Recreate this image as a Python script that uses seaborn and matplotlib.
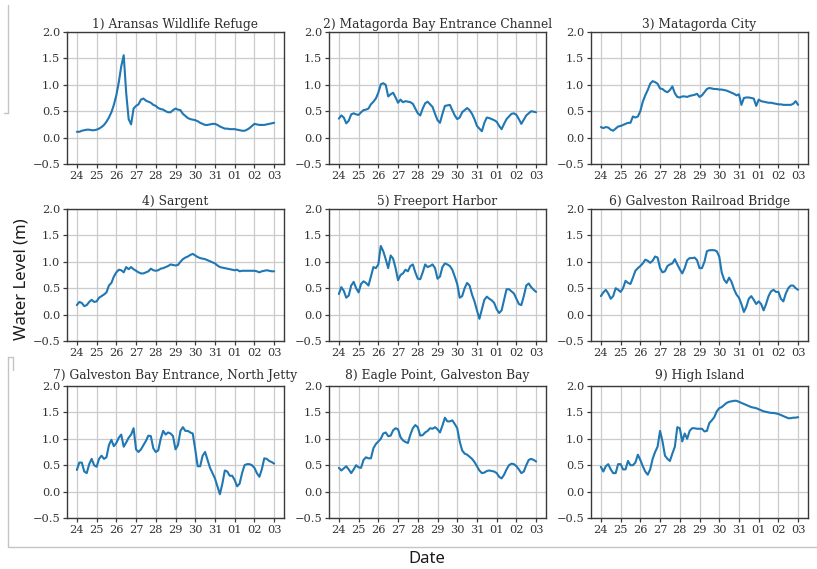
import matplotlib
matplotlib.use("Agg")
import matplotlib.pyplot as plt
import matplotlib.dates as mdates
from matplotlib.lines import Line2D
import numpy as np
import pandas as pd
import seaborn as sns

# 3-hourly readings, 24 Aug 2017 00:00 to 03 Sep 2017 00:00
times = pd.date_range("2017-08-24 00:00", "2017-09-03 00:00", freq="3h")

station_names = [
    "1) Aransas Wildlife Refuge",
    "2) Matagorda Bay Entrance Channel",
    "3) Matagorda City",
    "4) Sargent",
    "5) Freeport Harbor",
    "6) Galveston Railroad Bridge",
    "7) Galveston Bay Entrance, North Jetty",
    "8) Eagle Point, Galveston Bay",
    "9) High Island",
]

aransas = [
    0.11, 0.11, 0.13, 0.14, 0.15, 0.15, 0.14, 0.14,
    0.15, 0.17, 0.20, 0.24, 0.30, 0.38, 0.48, 0.62,
    0.80, 1.05, 1.35, 1.56, 0.85, 0.35, 0.25, 0.55,
    0.60, 0.63, 0.72, 0.74, 0.70, 0.68, 0.66, 0.62,
    0.60, 0.56, 0.54, 0.53, 0.50, 0.48, 0.48, 0.52,
    0.55, 0.53, 0.52, 0.45, 0.41, 0.37, 0.35, 0.34,
    0.33, 0.31, 0.28, 0.26, 0.24, 0.24, 0.25, 0.26,
    0.26, 0.24, 0.21, 0.19, 0.17, 0.17, 0.16, 0.16,
    0.16, 0.15, 0.14, 0.13, 0.13, 0.15, 0.18, 0.22,
    0.26, 0.25, 0.24, 0.24, 0.24, 0.25, 0.26, 0.27,
    0.28,
]
matagorda_bay = [
    0.36, 0.42, 0.38, 0.27, 0.32, 0.44, 0.46, 0.44,
    0.43, 0.48, 0.52, 0.53, 0.55, 0.63, 0.68, 0.74,
    0.85, 1.01, 1.03, 1.00, 0.78, 0.82, 0.85, 0.76,
    0.66, 0.72, 0.67, 0.69, 0.68, 0.67, 0.64, 0.55,
    0.46, 0.42, 0.55, 0.65, 0.68, 0.63, 0.58, 0.45,
    0.33, 0.28, 0.45, 0.60, 0.61, 0.62, 0.52, 0.42,
    0.35, 0.38, 0.48, 0.52, 0.56, 0.52, 0.45, 0.35,
    0.22, 0.17, 0.12, 0.28, 0.38, 0.37, 0.35, 0.33,
    0.30, 0.22, 0.16, 0.26, 0.35, 0.40, 0.45, 0.46,
    0.43, 0.35, 0.26, 0.34, 0.42, 0.46, 0.50, 0.49,
    0.48,
]
matagorda_city = [
    0.20, 0.18, 0.20, 0.19, 0.15, 0.13, 0.17, 0.21,
    0.22, 0.24, 0.26, 0.28, 0.28, 0.40, 0.38, 0.40,
    0.50, 0.68, 0.80, 0.90, 1.02, 1.07, 1.05, 1.02,
    0.93, 0.92, 0.88, 0.86, 0.90, 0.97, 0.84, 0.77,
    0.76, 0.78, 0.78, 0.77, 0.79, 0.80, 0.81, 0.83,
    0.77, 0.80, 0.86, 0.92, 0.94, 0.93, 0.92, 0.92,
    0.91, 0.91, 0.90, 0.89, 0.87, 0.85, 0.83, 0.80,
    0.82, 0.62, 0.75, 0.76, 0.76, 0.75, 0.74, 0.60,
    0.72, 0.69, 0.68, 0.67, 0.66, 0.66, 0.65, 0.64,
    0.63, 0.63, 0.62, 0.62, 0.62, 0.62, 0.64, 0.69,
    0.62,
]
sargent = [
    0.18, 0.24, 0.22, 0.16, 0.18, 0.24, 0.28, 0.24,
    0.25, 0.32, 0.35, 0.38, 0.42, 0.55, 0.60, 0.72,
    0.80, 0.85, 0.84, 0.80, 0.90, 0.86, 0.90, 0.86,
    0.83, 0.80, 0.78, 0.78, 0.80, 0.82, 0.87, 0.84,
    0.83, 0.84, 0.87, 0.88, 0.90, 0.92, 0.95, 0.94,
    0.93, 0.94, 1.00, 1.05, 1.08, 1.10, 1.13, 1.15,
    1.12, 1.09, 1.07, 1.06, 1.05, 1.03, 1.01, 0.99,
    0.97, 0.93, 0.90, 0.89, 0.88, 0.87, 0.86, 0.85,
    0.84, 0.85, 0.82, 0.83, 0.83, 0.83, 0.83, 0.83,
    0.83, 0.82, 0.80, 0.82, 0.83, 0.84, 0.83, 0.82,
    0.82,
]
freeport = [
    0.39, 0.52, 0.45, 0.32, 0.36, 0.55, 0.62, 0.50,
    0.42, 0.58, 0.63, 0.60, 0.55, 0.72, 0.90, 0.88,
    0.95, 1.30, 1.20, 1.05, 0.88, 1.12, 1.06, 0.88,
    0.65, 0.75, 0.78, 0.85, 0.82, 0.92, 0.95, 0.80,
    0.68, 0.67, 0.80, 0.95, 0.90, 0.92, 0.95, 0.88,
    0.68, 0.72, 0.90, 0.97, 0.95, 0.92, 0.85, 0.72,
    0.58, 0.32, 0.35, 0.50, 0.60, 0.55, 0.38, 0.25,
    0.08, -0.08, 0.10, 0.28, 0.34, 0.30, 0.27, 0.22,
    0.10, 0.03, 0.08, 0.28, 0.48, 0.48, 0.44, 0.40,
    0.30, 0.20, 0.18, 0.35, 0.55, 0.59, 0.52, 0.47,
    0.43,
]
galveston_rr = [
    0.35, 0.42, 0.47, 0.40, 0.30, 0.35, 0.50, 0.47,
    0.43, 0.50, 0.64, 0.60, 0.58, 0.70, 0.83, 0.88,
    0.92, 0.97, 1.04, 1.02, 0.98, 1.02, 1.10, 1.08,
    0.88, 0.80, 0.82, 0.92, 0.95, 0.97, 1.05, 0.95,
    0.86, 0.78, 0.88, 1.03, 1.07, 1.07, 1.08, 1.03,
    0.88, 0.88, 1.00, 1.20, 1.22, 1.22, 1.22, 1.20,
    1.10, 0.80, 0.66, 0.60, 0.70, 0.62, 0.48, 0.38,
    0.32, 0.20, 0.05, 0.15, 0.30, 0.35, 0.28, 0.20,
    0.25, 0.20, 0.08, 0.20, 0.35, 0.44, 0.47, 0.43,
    0.43, 0.30, 0.25, 0.40, 0.50, 0.55, 0.55, 0.50,
    0.47,
]
north_jetty = [
    0.41, 0.55, 0.55, 0.38, 0.35, 0.52, 0.62, 0.50,
    0.47, 0.62, 0.68, 0.62, 0.65, 0.88, 0.98, 0.86,
    0.92, 1.02, 1.08, 0.85, 0.93, 1.02, 1.08, 1.20,
    0.80, 0.75, 0.80, 0.88, 0.96, 1.06, 1.05, 0.82,
    0.75, 0.78, 1.00, 1.15, 1.08, 1.12, 1.10, 1.05,
    0.80, 0.88, 1.15, 1.22, 1.15, 1.15, 1.12, 1.10,
    0.80, 0.48, 0.48, 0.68, 0.75, 0.60, 0.45, 0.35,
    0.25, 0.10, -0.05, 0.15, 0.40, 0.38, 0.30, 0.30,
    0.22, 0.10, 0.15, 0.35, 0.50, 0.52, 0.52, 0.50,
    0.45, 0.35, 0.28, 0.42, 0.63, 0.62, 0.58, 0.56,
    0.53,
]
eagle_point = [
    0.45, 0.40, 0.44, 0.48, 0.42, 0.35, 0.42, 0.50,
    0.46, 0.45, 0.60, 0.65, 0.63, 0.63, 0.82, 0.90,
    0.95, 1.00, 1.10, 1.12, 1.05, 1.06, 1.16, 1.20,
    1.18, 1.03, 0.97, 0.94, 0.92, 1.08, 1.20, 1.26,
    1.22, 1.06, 1.07, 1.12, 1.15, 1.20, 1.19, 1.22,
    1.18, 1.12, 1.25, 1.40, 1.33, 1.33, 1.35, 1.28,
    1.20, 0.95, 0.78, 0.72, 0.70, 0.66, 0.62, 0.56,
    0.48, 0.40, 0.35, 0.36, 0.39, 0.40, 0.39, 0.38,
    0.35, 0.28, 0.25, 0.32, 0.42, 0.50, 0.53, 0.52,
    0.48, 0.42, 0.35, 0.38, 0.50, 0.60, 0.62, 0.60,
    0.57,
]
high_island = [
    0.47, 0.38, 0.48, 0.52, 0.42, 0.35, 0.35, 0.52,
    0.52, 0.42, 0.42, 0.58, 0.50, 0.50, 0.55, 0.70,
    0.60, 0.48, 0.38, 0.32, 0.42, 0.62, 0.75, 0.85,
    1.15, 0.95, 0.68, 0.62, 0.58, 0.72, 0.85, 1.22,
    1.20, 0.95, 1.10, 1.00, 1.15, 1.20, 1.20, 1.19,
    1.19, 1.19, 1.14, 1.15, 1.30, 1.35, 1.41, 1.52,
    1.58, 1.60, 1.64, 1.68, 1.70, 1.71, 1.72, 1.72,
    1.70, 1.68, 1.66, 1.64, 1.62, 1.60, 1.59, 1.58,
    1.56, 1.54, 1.52, 1.51, 1.50, 1.49, 1.49, 1.48,
    1.47, 1.45, 1.43, 1.41, 1.39, 1.39, 1.40, 1.40,
    1.41,
]

levels = [aransas, matagorda_bay, matagorda_city, sargent, freeport,
          galveston_rr, north_jetty, eagle_point, high_island]
y_ticks = [-0.5, 0.0, 0.5, 1.0, 1.5, 2.0]

sns.set_style("whitegrid", {
    "axes.edgecolor": "#3a3a3a",
    "grid.color": "#cbcbcb",
    "xtick.bottom": True,
    "ytick.left": True,
})
plt.rcParams.update({
    "font.family": ["DejaVu Serif"],
    "axes.linewidth": 1.0,
    "grid.linewidth": 0.9,
    "xtick.major.size": 2.6,
    "ytick.major.size": 2.6,
    "xtick.major.width": 0.9,
    "ytick.major.width": 0.9,
    "xtick.color": "#3a3a3a",
    "ytick.color": "#3a3a3a",
    "xtick.labelcolor": "#333333",
    "ytick.labelcolor": "#333333",
})

W, H = 817, 569
fig = plt.figure(figsize=(W / 100, H / 100), dpi=100)

col_left = [67, 329, 591]
row_top = [32, 209, 386]
title_pad = [3, 3, 5]
ax_w, ax_h = 217, 132

for i, (name, vals) in enumerate(zip(station_names, levels)):
    r, c = divmod(i, 3)
    ax = fig.add_axes([col_left[c] / W, 1 - (row_top[r] + ax_h) / H,
                       ax_w / W, ax_h / H])
    df = pd.DataFrame({"time": times, "level": vals})
    sns.lineplot(data=df, x="time", y="level", ax=ax,
                 color="#1f77b4", linewidth=1.5)
    ax.set_ylim(-0.5, 2.0)
    ax.set_yticks(y_ticks)
    ax.xaxis.set_major_locator(mdates.DayLocator())
    ax.xaxis.set_major_formatter(mdates.DateFormatter("%d"))
    ax.tick_params(labelsize=8.2, pad=2.2)
    ax.set_xlabel("")
    ax.set_ylabel("")
    ax.set_title(name, fontsize=8.8, color="#2e2e2e", pad=title_pad[r])
    for s in ax.spines.values():
        s.set_visible(True)

sans = ["Noto Sans", "DejaVu Sans"]
fig.text(22 / W, 1 - 279 / H, "Water Level (m)", rotation=90,
         ha="center", va="center", fontsize=12, family=sans, color="#1a1a1a")
fig.text(427 / W, 1 - 559 / H, "Date", ha="center", va="center",
         fontsize=12, family=sans, color="#1a1a1a")

# frame lines of the surrounding page
frame = "#c4c4c4"
fig.add_artist(Line2D([8 / W, 8 / W], [1 - 5 / H, 1 - 113 / H],
                      transform=fig.transFigure, color=frame, lw=1))
fig.add_artist(Line2D([4 / W, 8 / W], [1 - 113 / H, 1 - 113 / H],
                      transform=fig.transFigure, color=frame, lw=1))
fig.add_artist(Line2D([8 / W, 13 / W, 13 / W], [1 - 357 / H, 1 - 357 / H, 1 - 370 / H],
                      transform=fig.transFigure, color=frame, lw=1))
fig.add_artist(Line2D([8 / W, 8 / W, W / W], [1 - 357 / H, 1 - 547 / H, 1 - 547 / H],
                      transform=fig.transFigure, color=frame, lw=1))

fig.savefig("out.png", dpi=100)
